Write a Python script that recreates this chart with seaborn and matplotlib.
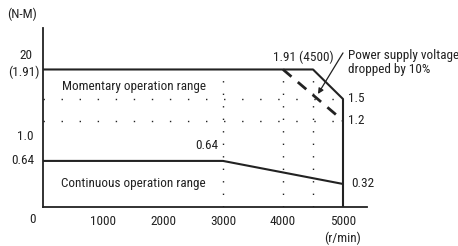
import matplotlib
matplotlib.use("Agg")
import matplotlib.pyplot as plt
import seaborn as sns
import pandas as pd

# ---- data ----
mom_speed = [0, 4500, 5000, 5000]
mom_torque = [1.91, 1.91, 1.5, 0.0]
drop_speed = [4000, 5000]
drop_torque = [1.91, 1.2]
cont_speed = [0, 3000, 5000]
cont_torque = [0.64, 0.64, 0.32]
ref_levels = [1.5, 1.2]
ref_speeds = [3000, 4000, 4500]
x_ticks = [1000, 2000, 3000, 4000, 5000]
y_ticks = [1.0, 2.0]
y_tick_labels = ["1.0", ""]

sns.set_theme(style="white")
plt.rcParams["font.family"] = ["Roboto Condensed", "Roboto", "DejaVu Sans"]
FS = 9.5
plt.rcParams["font.size"] = FS

ink = "#222222"
fig = plt.figure(figsize=(4.58, 2.46), dpi=100)
ax = fig.add_axes([43 / 458, 39 / 246, (367 - 43) / 458, (207 - 28) / 246])
ax.set_xlim(0, 5400)
ax.set_ylim(0, 179 / 72)

# reference dotted lines
for lv in ref_levels:
    ax.plot([0, 5000], [lv, lv], color=ink, lw=1.0, ls=(0, (1, 12)))
for sp in ref_speeds:
    ax.plot([sp, sp], [0, 1.91], color=ink, lw=1.0, ls=(0, (1, 8)))

mom = pd.DataFrame({"speed": mom_speed, "torque": mom_torque})
drop = pd.DataFrame({"speed": drop_speed, "torque": drop_torque})
cont = pd.DataFrame({"speed": cont_speed, "torque": cont_torque})
sns.lineplot(data=mom, x="speed", y="torque", sort=False, estimator=None, color=ink, lw=1.5, ax=ax)
sns.lineplot(data=drop, x="speed", y="torque", sort=False, estimator=None, color=ink, lw=2.0,
             ax=ax, linestyle=(0, (4, 3)))
sns.lineplot(data=cont, x="speed", y="torque", sort=False, estimator=None, color=ink, lw=1.5, ax=ax)

for s in ["top", "right"]:
    ax.spines[s].set_visible(False)
for s in ["left", "bottom"]:
    ax.spines[s].set_color(ink)
    ax.spines[s].set_linewidth(1.3)

ax.set_xticks(x_ticks)
ax.set_xticklabels([str(v) for v in x_ticks])
ax.set_yticks(y_ticks)
ax.set_yticklabels(y_tick_labels)
ax.tick_params(axis="x", direction="in", length=3, width=1, color=ink, pad=6, labelsize=FS, labelcolor=ink)
ax.tick_params(axis="y", direction="out", length=5, width=1, color=ink, pad=2, labelsize=FS, labelcolor=ink)
ax.set_xlabel("")
ax.set_ylabel("")

kw = dict(color=ink, clip_on=False, fontsize=FS)
ax.text(-350, 2.68, "(N-M)", ha="center", va="center", **kw)
ax.text(-292, 2.11, "20", ha="center", va="center", **kw)
ax.text(-317, 1.875, "(1.91)", ha="center", va="center", **kw)
ax.text(-150, 0.64, "0.64", ha="right", va="center", **kw)
ax.text(-183, -0.18, "0", ha="center", va="center", **kw)
ax.text(5000, -0.43, "(r/min)", ha="center", va="center", **kw)
ax.text(317, 1.68, "Momentary operation range", ha="left", va="center", **kw)
ax.text(300, 0.33, "Continuous operation range", ha="left", va="center", **kw)
ax.text(2917, 0.85, "0.64", ha="right", va="center", **kw)
ax.text(4333, 2.08, "1.91 (4500)", ha="center", va="center", **kw)
ax.text(5083, 1.5, "1.5", ha="left", va="center", **kw)
ax.text(5083, 1.2, "1.2", ha="left", va="center", **kw)
ax.text(5130, 0.32, "0.32", ha="left", va="center", **kw)
ax.text(5083, 2.2, "Power supply voltage\ndropped by 10%", ha="left", va="top",
        linespacing=1.15, **kw)
ax.annotate("", xy=(4583, 1.57), xytext=(5000, 2.14),
            arrowprops=dict(arrowstyle="-|>", color=ink, lw=0.9, shrinkA=0, shrinkB=0,
                            mutation_scale=8))

fig.savefig("out.png", dpi=100)
